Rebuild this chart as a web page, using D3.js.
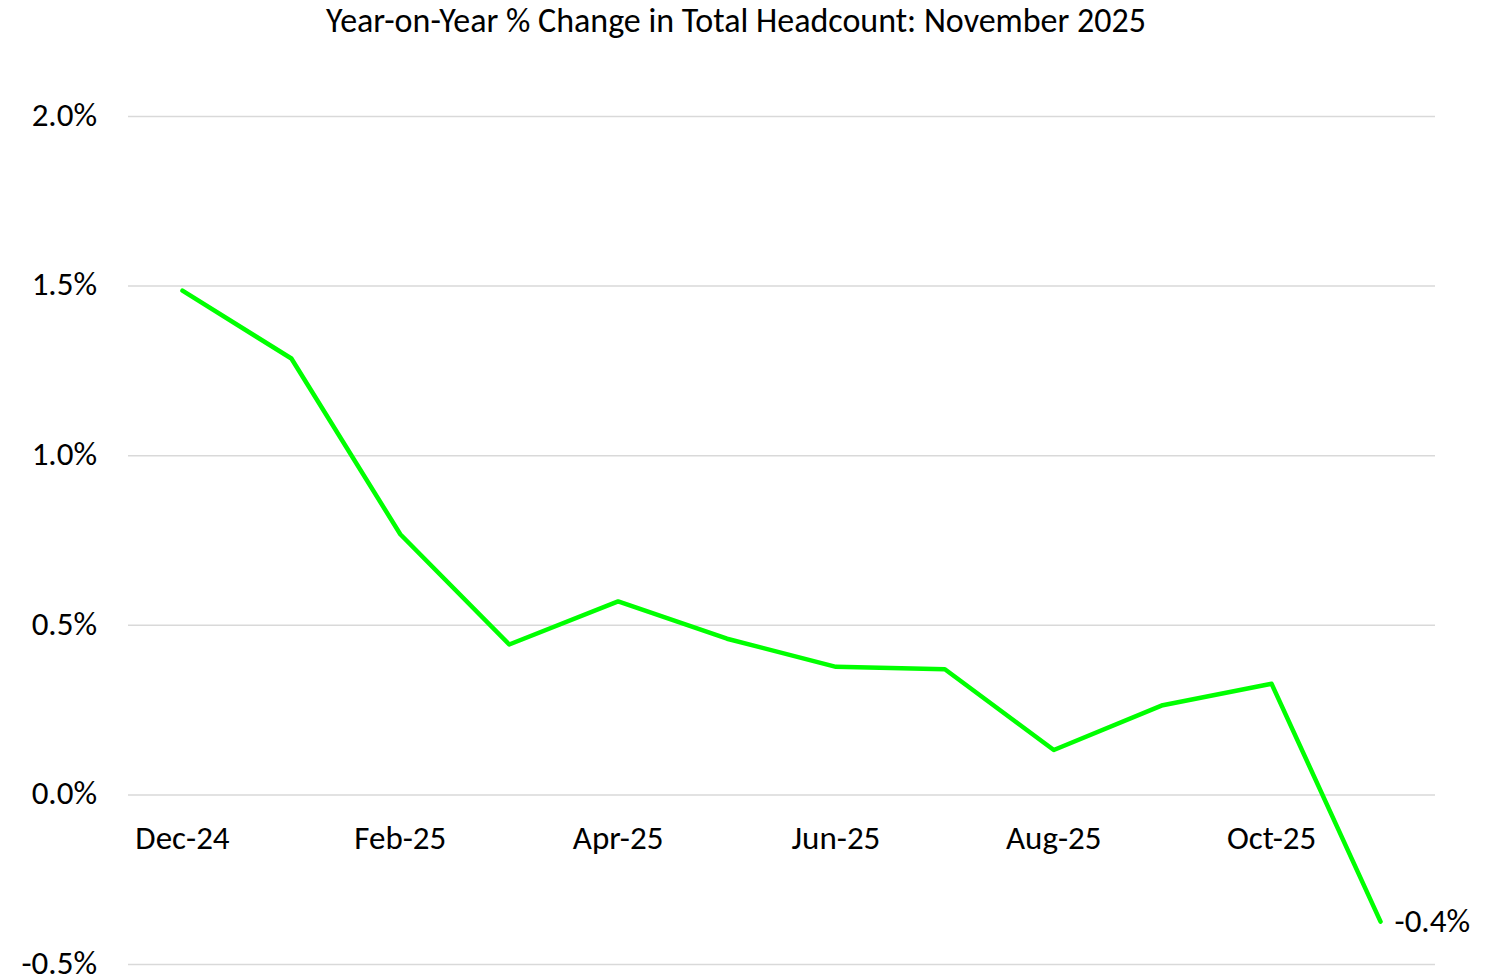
<!DOCTYPE html>
<html>
<head>
<meta charset="utf-8">
<script src="https://cdn.jsdelivr.net/npm/d3@7"></script>
<style>
	body	{ margin:0; background:#fff; }
	svg text	{ font-family: Carlito, Lato, "Open Sans", sans-serif; fill:#000; }
</style>
</head>
<body>
<svg id="chart" width="1501" height="979"></svg>
<script>
var months	= ["Dec-24","Jan-25","Feb-25","Mar-25","Apr-25","May-25","Jun-25","Jul-25","Aug-25","Sep-25","Oct-25","Nov-25"];
var yoy		= [1.485, 1.285, 0.767, 0.442, 0.569, 0.459, 0.376, 0.369, 0.131, 0.263, 0.326, -0.375];
var yTicks	= [-0.5, 0.0, 0.5, 1.0, 1.5, 2.0];
var title	= "Year-on-Year % Change in Total Headcount: November 2025";

var svg = d3.select('#chart');
var m = { left:128, right:1435, top:116, bottom:964 }, fs = '33px';
// excel style: plain hyphen for negatives
var pct = function(d){ return d3.format('.1f')(d).replace('\u2212', '-') + '%'; };

var x = d3.scaleBand().domain(months).range([m.left, m.right]);
var y = d3.scaleLinear().domain([-0.5, 2.0]).range([m.bottom, m.top]);

svg.append('text').attr('x', 736).attr('y', 20).attr('dy', '0.35em')
	.attr('text-anchor', 'middle').style('font-size', '34px').text(title);

// gridlines + y labels
var yAxis = svg.append('g').attr('transform', 'translate(' + m.left + ',0)')
	.call(d3.axisLeft(y).tickValues(yTicks).tickSize(-(m.right - m.left)).tickPadding(31).tickFormat(pct));
yAxis.select('.domain').remove();
yAxis.selectAll('.tick line').attr('stroke', '#d9d9d9').attr('stroke-width', 1.5);
yAxis.selectAll('.tick text').style('font-size', fs).attr('dy', '0.28em');

// x labels sit under the zero line, every other month
var xAxis = svg.append('g').attr('transform', 'translate(0,' + y(0) + ')')
	.call(d3.axisBottom(x).tickSize(0)
		.tickFormat(function(d, i){ return i % 2 == 0 ? d : ''; }));
xAxis.select('.domain').remove();
xAxis.selectAll('.tick text').style('font-size', fs).attr('dy', '0.35em').attr('y', 43);

var line = d3.line()
	.x(function(d, i){ return x(months[i]) + x.bandwidth() / 2; })
	.y(function(d){ return y(d); });
svg.append('path').datum(yoy).attr('d', line)
	.attr('fill', 'none').attr('stroke', '#00ff00').attr('stroke-width', 4.5)
	.attr('stroke-linejoin', 'round').attr('stroke-linecap', 'round');

var last = yoy.length - 1;
svg.append('text')
	.attr('x', x(months[last]) + x.bandwidth() / 2 + 14).attr('y', y(yoy[last])).attr('dy', '0.3em')
	.style('font-size', fs).text(pct(yoy[last]));
</script>
</body>
</html>
